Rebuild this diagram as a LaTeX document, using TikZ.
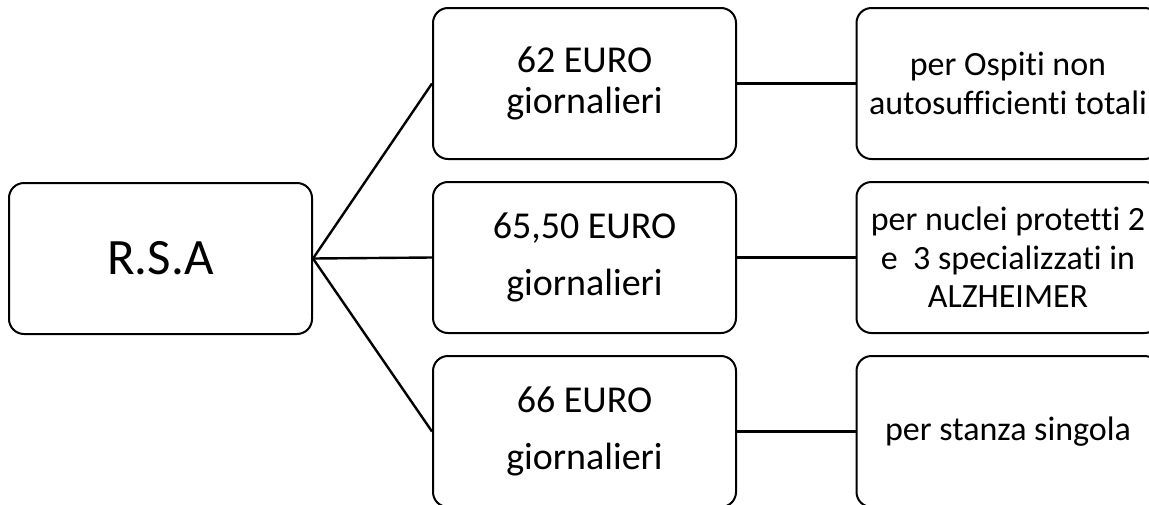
\documentclass[tikz,border=0pt]{standalone}
\usepackage{fontspec}
\setmainfont{Carlito}[RawFeature={-liga;-clig;-dlig}]
\begin{document}
\begin{tikzpicture}[x=1pt,y=-1pt,
  box/.style={draw=black, line width=2pt, rounded corners=15pt, minimum width=303pt, minimum height=151pt, inner sep=0pt, align=center},
  conn/.style={draw=black, line width=2.4pt},
  midtxt/.style={font=\fontsize{38}{41}\selectfont},
  midtxtw/.style={font=\fontsize{38}{57}\selectfont},
  righttxt/.style={font=\fontsize{34}{38.5}\selectfont}]
\path[use as bounding box, clip] (0,0) rectangle (1149,504);
\node[box, font=\fontsize{51}{60}\selectfont] (rsa) at (160.5,258.5) {R.S.A};
\node[box, midtxt] (m1) at (584.5,83.5) {62 EURO\\giornalieri};
\node[box, midtxtw] (m2) at (584.5,257.5) {65,50 EURO\\giornalieri};
\node[box, midtxtw] (m3) at (584.5,431.5) {66 EURO\\giornalieri};
\node[box, righttxt] (r1) at (1008,83.5) {per Ospiti non\\autosufficienti totali};
\node[box, righttxt] (r2) at (1008,257.5) {per nuclei protetti 2\\e\ \ 3 specializzati in\\ALZHEIMER};
\node[box, righttxt] (r3) at (1008,431.5) {per stanza singola};
\draw[conn] (rsa.east) -- (m1.west);
\draw[conn] (rsa.east) -- (m2.west);
\draw[conn] (rsa.east) -- (m3.west);
\draw[conn] (m1.east) -- (r1.west);
\draw[conn] (m2.east) -- (r2.west);
\draw[conn] (m3.east) -- (r3.west);
\end{tikzpicture}
\end{document}
